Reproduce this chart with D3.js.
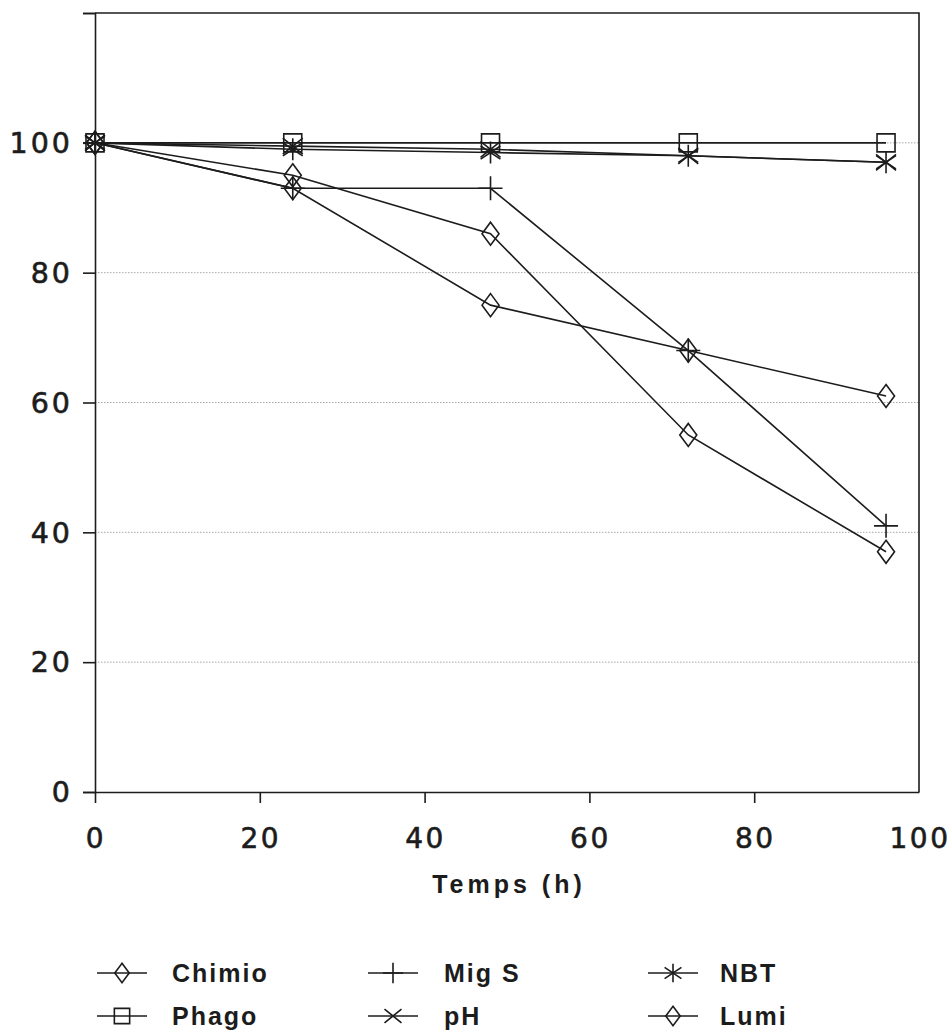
<!DOCTYPE html>
<html>
<head>
<meta charset="utf-8">
<script src="https://cdn.jsdelivr.net/npm/d3@7"></script>
<style>
  html, body { margin: 0; padding: 0; background: #fff; }
  svg { display: block; }
</style>
</head>
<body>
<svg id="chart" width="951" height="1036"></svg>
<script>
// ---- data ----
const hours = [0, 24, 48, 72, 96];
const chimio = [100, 95, 86, 55, 37];
const phago = [100, 100, 100, 100, 100];
const migS = [100, 93, 93, 68, 41];
const pH = [100, 99.5, 99, 98, 97];
const nbt = [100, 99, 98.5, 98, 97];
const lumi = [100, 93, 75, 68, 61];
const seriesNames = ["Chimio", "Phago", "Mig S", "pH", "NBT", "Lumi"];
const seriesSymbols = ["diamond", "square", "plus", "cross", "asterisk", "diamond"];
const seriesValues = [chimio, phago, migS, pH, nbt, lumi];
const xTickValues = [0, 20, 40, 60, 80];
const xTickLabels = [0, 20, 40, 60, 80, 100];
const yTickValues = [0, 20, 40, 60, 80, 100, 120];
const yTickLabels = [0, 20, 40, 60, 80, 100];
const gridValues = [20, 40, 60, 80, 100];
const xTitle = "Temps (h)";

// ---- layout ----
const svg = d3.select("#chart");
const ink = "#1c1c1c";
const x = d3.scaleLinear().domain([0, 100]).range([95, 919]);
const y = d3.scaleLinear().domain([0, 120]).range([792, 13]);

// marker shapes (drawn around 0,0)
function markerPath(type, s) {
  const p = d3.path();
  if (type === "diamond") {
    const w = 8.5 * s, h = 11.5 * s;
    p.moveTo(0, -h); p.lineTo(w, 0); p.lineTo(0, h); p.lineTo(-w, 0); p.closePath();
  } else if (type === "square") {
    const r = 9 * s;
    p.rect(-r, -r, 2 * r, 2 * r);
  } else if (type === "plus") {
    const r = 12 * s;
    p.moveTo(-r, 0); p.lineTo(r, 0); p.moveTo(0, -r); p.lineTo(0, r);
  } else if (type === "cross") {
    const r = 10 * s;
    p.moveTo(-r, -r * 0.8); p.lineTo(r, r * 0.8); p.moveTo(-r, r * 0.8); p.lineTo(r, -r * 0.8);
  } else if (type === "asterisk") {
    const r = 11 * s;
    p.moveTo(0, -r); p.lineTo(0, r);
    p.moveTo(-r * 0.9, -r * 0.6); p.lineTo(r * 0.9, r * 0.6);
    p.moveTo(-r * 0.9, r * 0.6); p.lineTo(r * 0.9, -r * 0.6);
  }
  return p.toString();
}

// grid lines
svg.append("g").selectAll("line").data(gridValues).join("line")
  .attr("x1", x(0)).attr("x2", x(100))
  .attr("y1", d => y(d)).attr("y2", d => y(d))
  .attr("stroke", "#a8a8a8").attr("stroke-width", 1)
  .attr("stroke-dasharray", "1.5,1.5");

// y axis
const yAxis = d3.axisLeft(y).tickValues(yTickValues).tickSize(12).tickSizeOuter(12).tickFormat("");
const gy = svg.append("g").attr("transform", `translate(${x(0)},0)`).call(yAxis);
// x axis
const xAxis = d3.axisBottom(x).tickValues(xTickValues).tickSize(11).tickSizeOuter(0).tickFormat("");
const gx = svg.append("g").attr("transform", `translate(0,${y(0)})`).call(xAxis);
[gx, gy].forEach(g => {
  g.selectAll("path, line").attr("stroke", ink).attr("stroke-width", 1.6);
});
// frame: top and right
svg.append("path")
  .attr("d", `M${x(0)},${y(120)}H${x(100)}V${y(0)}`)
  .attr("fill", "none").attr("stroke", ink).attr("stroke-width", 1.6);

const tickFont = "'DejaVu Sans', Verdana, sans-serif";
const fontFam = "'Liberation Sans', Arial, Helvetica, sans-serif";
// y tick labels
svg.append("g").selectAll("text").data(yTickLabels).join("text")
  .attr("x", 73).attr("y", d => y(d))
  .attr("dy", "0.36em")
  .attr("text-anchor", "end")
  .attr("font-family", tickFont).attr("font-size", 28.5)
  .attr("letter-spacing", 3).attr("fill", ink)
  .attr("stroke", ink).attr("stroke-width", 0.6)
  .text(d => d);
// x tick labels
svg.append("g").selectAll("text").data(xTickLabels).join("text")
  .attr("x", d => x(d) + 1).attr("y", 848)
  .attr("text-anchor", "middle")
  .attr("font-family", tickFont).attr("font-size", 28)
  .attr("letter-spacing", 2.5).attr("fill", ink)
  .attr("stroke", ink).attr("stroke-width", 0.6)
  .text(d => d);
// x title
svg.append("text")
  .attr("x", 509).attr("y", 893)
  .attr("text-anchor", "middle")
  .attr("font-family", fontFam).attr("font-size", 25).attr("font-weight", "bold")
  .attr("letter-spacing", 4).attr("fill", ink)
  .text(xTitle);

// series lines and markers
const line = d3.line().x((d, i) => x(hours[i])).y(d => y(d));
const gS = svg.append("g");
seriesValues.forEach((vals, k) => {
  gS.append("path").datum(vals).attr("d", line)
    .attr("fill", "none").attr("stroke", ink).attr("stroke-width", 1.6);
  gS.append("g").selectAll("path").data(vals).join("path")
    .attr("transform", (d, i) => `translate(${x(hours[i])},${y(d)})`)
    .attr("d", markerPath(seriesSymbols[k], 1))
    .attr("fill", "none").attr("stroke", ink).attr("stroke-width", 1.6);
});

// legend
const legCols = [97, 368, 648];
const legTextX = [172, 444, 720];
const legRows = [973, 1016];
const gL = svg.append("g");
seriesNames.forEach((name, k) => {
  const c = Math.floor(k / 2), r = k % 2;
  const lx = legCols[c], ly = legRows[r];
  gL.append("line").attr("x1", lx).attr("x2", lx + 50).attr("y1", ly).attr("y2", ly)
    .attr("stroke", ink).attr("stroke-width", 1.6);
  gL.append("path").attr("transform", `translate(${lx + 25},${ly})`)
    .attr("d", markerPath(seriesSymbols[k], 0.85))
    .attr("fill", "none").attr("stroke", ink).attr("stroke-width", 1.6);
  gL.append("text").attr("x", legTextX[c]).attr("y", ly).attr("dy", "0.36em")
    .attr("font-family", fontFam).attr("font-size", 25).attr("font-weight", "bold")
    .attr("letter-spacing", 2).attr("fill", ink)
    .text(name);
});
</script>
</body>
</html>
